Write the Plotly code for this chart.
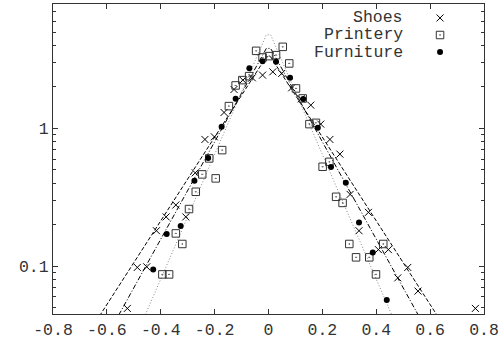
import plotly.graph_objects as go

# values (x, density), log y axis
shoes_x = [-0.524, -0.487, -0.452, -0.416, -0.380, -0.344, -0.307, -0.272, -0.236, -0.201,
           -0.165, -0.128, -0.095, -0.060, -0.022, 0.016, 0.049, 0.086, 0.121, 0.157,
           0.194, 0.228, 0.265, 0.303, 0.336, 0.371, 0.408, 0.445, 0.480, 0.517,
           0.555, 0.768]
shoes_y = [0.0494, 0.098, 0.099, 0.181, 0.228, 0.278, 0.228, 0.476, 0.832, 0.869,
           1.306, 1.919, 2.242, 2.329, 2.437, 2.575, 2.507, 1.971, 1.640, 1.476,
           1.075, 0.832, 0.651, 0.332, 0.181, 0.246, 0.132, 0.132, 0.0823, 0.098,
           0.066, 0.0494]

printery_x = [-0.394, -0.369, -0.344, -0.320, -0.295, -0.270, -0.246, -0.220, -0.196, -0.172,
              -0.147, -0.122, -0.097, -0.072, -0.046, -0.022, 0.003, 0.028, 0.053, 0.077,
              0.102, 0.127, 0.152, 0.176, 0.201, 0.226, 0.251, 0.275, 0.300, 0.325,
              0.374, 0.399, 0.426]
printery_y = [0.0872, 0.0872, 0.173, 0.145, 0.260, 0.347, 0.464, 0.606, 0.434, 0.696,
              1.452, 2.051, 2.242, 2.396, 3.657, 3.275, 3.347, 3.404, 3.910, 2.963,
              1.951, 1.651, 1.075, 1.098, 0.527, 0.572, 0.319, 0.288, 0.145, 0.116,
              0.116, 0.0872, 0.145]

furniture_x = [-0.428, -0.378, -0.326, -0.275, -0.224, -0.174, -0.122, -0.071, -0.022,
               0.028, 0.080, 0.129, 0.183, 0.232, 0.287, 0.336, 0.387, 0.439]
furniture_y = [0.0948, 0.171, 0.196, 0.417, 0.609, 1.027, 1.640, 2.739, 3.068,
               3.042, 2.337, 1.632, 1.010, 0.524, 0.403, 0.208, 0.126, 0.0568]

# fitted curves (straight on the log scale), read at the ends and the flat top
fit_x = [-0.7, -0.008, 0.008, 0.7]
fit_dashed_y = [0.0262, 3.31, 3.31, 0.0262]
fit_dashdot_y = [0.0137, 3.81, 3.81, 0.0137]
fit_dotted_y = [0.00355, 4.78, 4.78, 0.00355]

x_ticks = [-0.8, -0.6, -0.4, -0.2, 0, 0.2, 0.4, 0.6, 0.8]
x_tick_labels = ["-0.8", "-0.6", "-0.4", "-0.2", "0", "0.2", "0.4", "0.6", "0.8"]

series_names = ["Shoes", "Printery", "Furniture"]

FONT = "Liberation Mono, Courier New, monospace"
INK = "#333333"

fig = go.Figure()

# fit lines
fig.add_trace(go.Scatter(x=fit_x, y=fit_dashed_y, mode="lines",
                         line=dict(color="black", width=1, dash="4px,2px")))
fig.add_trace(go.Scatter(x=fit_x, y=fit_dashdot_y, mode="lines",
                         line=dict(color="black", width=1, dash="5px,2px,1px,2px")))
fig.add_trace(go.Scatter(x=fit_x, y=fit_dotted_y, mode="lines",
                         line=dict(color="#8a8a8a", width=1, dash="1px,2px")))

# marker styles for the three series
styles = [
    dict(symbol="x-thin", size=7, color="black", line=dict(width=1, color="black")),
    dict(symbol="square-open-dot", size=7.5, color="#333333", line=dict(width=1, color="#333333")),
    dict(symbol="circle", size=6, color="black", line=dict(width=0)),
]

for xs, ys, st in zip([shoes_x, printery_x, furniture_x],
                      [shoes_y, printery_y, furniture_y], styles):
    fig.add_trace(go.Scatter(x=xs, y=ys, mode="markers", marker=st))

# gnuplot-style key: text on the left, sample marker on the right
key_y = [0.955, 0.900, 0.845]
for name, st, ky in zip(series_names, styles, key_y):
    fig.add_trace(go.Scatter(x=[0.898], y=[ky], mode="markers", marker=st,
                             xaxis="x2", yaxis="y2", cliponaxis=False))
    fig.add_annotation(x=0.817, y=ky, xref="paper", yref="paper", text=name,
                       showarrow=False, xanchor="right", yanchor="middle",
                       font=dict(family=FONT, size=16.5, color=INK))

fig.update_layout(
    width=502, height=345,
    margin=dict(l=53, r=18, t=4, b=31),
    paper_bgcolor="white", plot_bgcolor="white",
    showlegend=False,
    font=dict(family=FONT, size=16.5, color=INK),
    xaxis=dict(range=[-0.8, 0.8], tickmode="array", tickvals=x_ticks, ticktext=x_tick_labels,
               showgrid=False, zeroline=False, showline=True, linecolor="#333333", linewidth=1,
               mirror="ticks", ticks="inside", ticklen=5, tickcolor="#333333"),
    yaxis=dict(type="log", range=[-1.3468, 0.9031], dtick=1,
               showgrid=False, zeroline=False, showline=True, linecolor="#333333", linewidth=1,
               mirror="ticks", ticks="inside", ticklen=5, tickcolor="#333333",
               minor=dict(ticks="inside", ticklen=3, tickcolor="#333333", dtick="D1", showgrid=False)),
    xaxis2=dict(overlaying="x", range=[0, 1], visible=False),
    yaxis2=dict(overlaying="y", range=[0, 1], visible=False),
)

# page body has a default 8px margin; drop it so the figure sits at the window corner
fig.write_html("out.html", config={"displayModeBar": False},
               post_script="document.body.style.margin='0';")
